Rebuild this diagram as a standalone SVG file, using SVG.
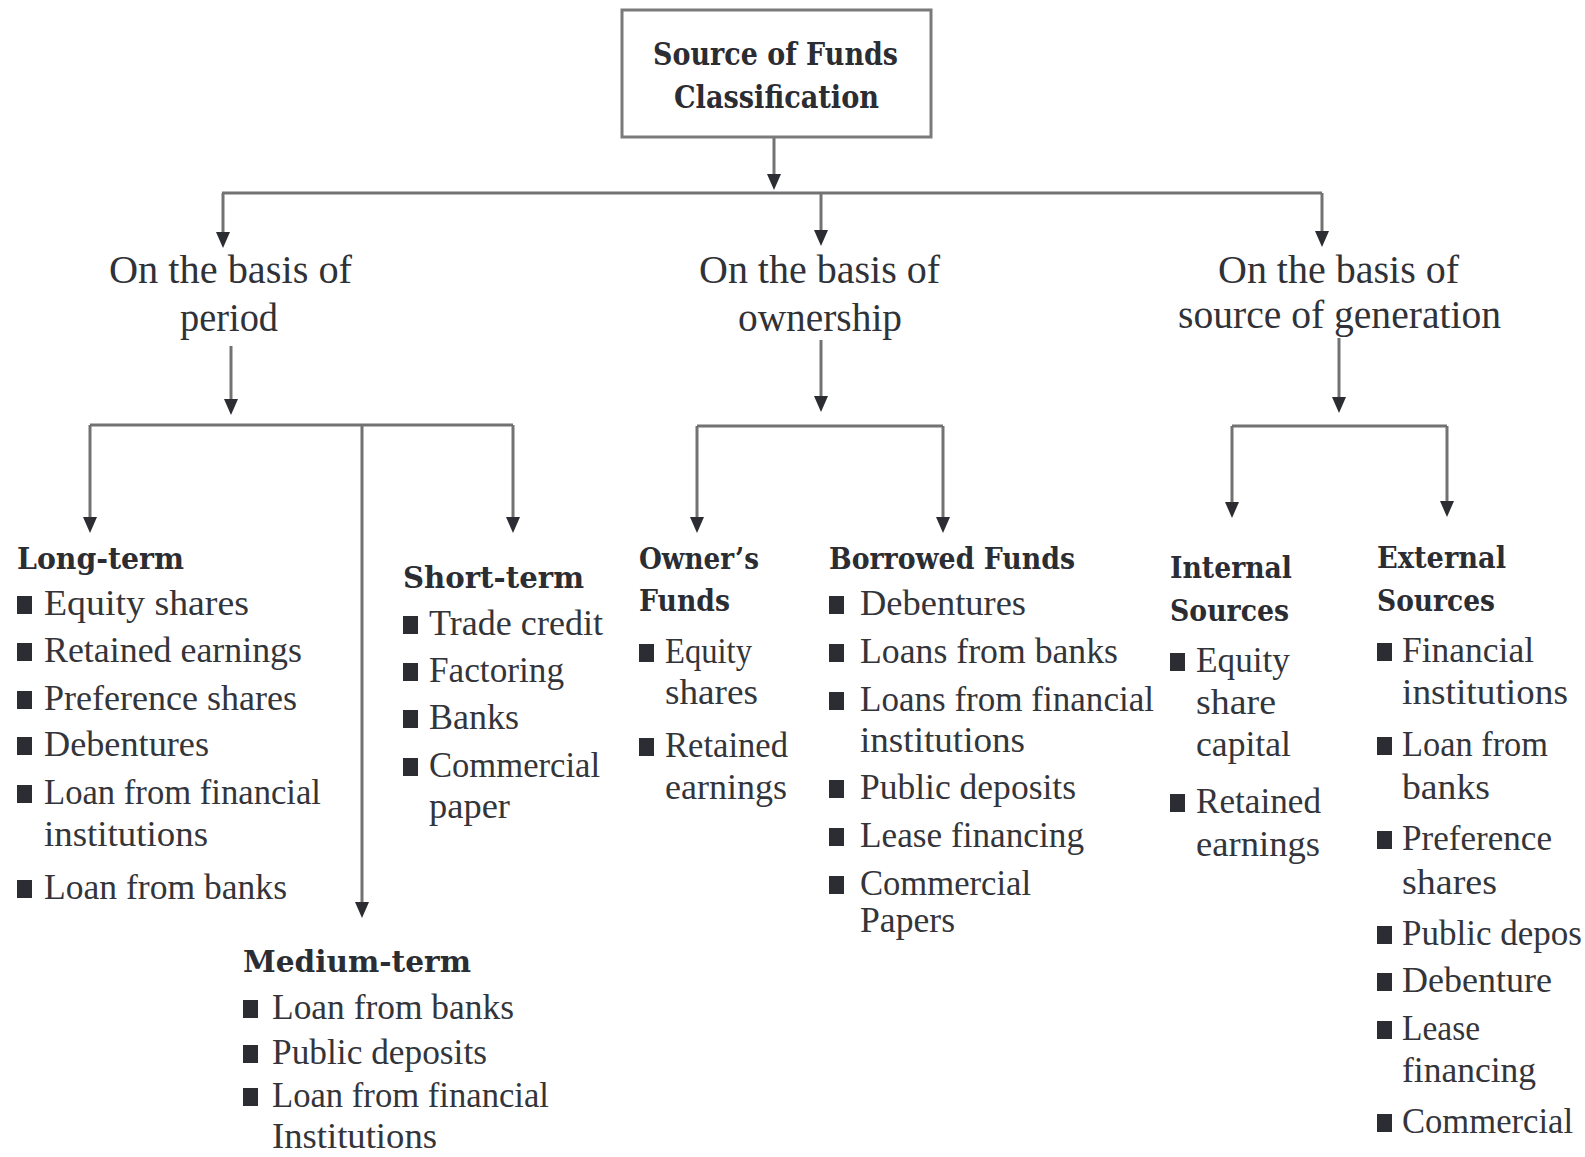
<svg xmlns="http://www.w3.org/2000/svg" width="1585" height="1157" viewBox="0 0 1585 1157">
<style>
text{fill:#2b2d33}
.t{font-family:"DejaVu Serif","Liberation Serif",serif;font-weight:bold;font-size:31px}
.h{font-family:"DejaVu Serif","Liberation Serif",serif;font-weight:bold;font-size:30px}
.l2{font-family:"Liberation Serif",serif;font-size:41px;fill:#303238}
.i{font-family:"Liberation Serif",serif;font-size:36px;fill:#33353a}
.b{fill:#2b2d33}
.c{stroke:#727272;stroke-width:3;fill:none}
.box{fill:#fff;stroke:#7a7a7a;stroke-width:3}
</style>
<defs>
<marker id="ah" markerUnits="userSpaceOnUse" markerWidth="18" markerHeight="16" viewBox="-1 -8 18 16" refX="8" refY="0" orient="auto">
<path d="M0,-7 L16,0 L0,7 z" fill="#2b2d33"/>
</marker>
</defs>
<rect width="1585" height="1157" fill="#fff"/>

<g id="connectors">
<path class="c" d="M774,137 V182" marker-end="url(#ah)"/>
<path class="c" d="M222,193 H1322"/>
<path class="c" d="M223,193 V240" marker-end="url(#ah)"/>
<path class="c" d="M821,193 V238" marker-end="url(#ah)"/>
<path class="c" d="M1322,193 V239" marker-end="url(#ah)"/>
<path class="c" d="M231,346 V407" marker-end="url(#ah)"/>
<path class="c" d="M821,340 V404" marker-end="url(#ah)"/>
<path class="c" d="M1339,338 V405" marker-end="url(#ah)"/>
<path class="c" d="M90,425 H513"/>
<path class="c" d="M90,425 V525" marker-end="url(#ah)"/>
<path class="c" d="M362,425 V910" marker-end="url(#ah)"/>
<path class="c" d="M513,425 V525" marker-end="url(#ah)"/>
<path class="c" d="M697,426 H943"/>
<path class="c" d="M697,426 V525" marker-end="url(#ah)"/>
<path class="c" d="M943,426 V525" marker-end="url(#ah)"/>
<path class="c" d="M1232,426 H1447"/>
<path class="c" d="M1232,426 V510" marker-end="url(#ah)"/>
<path class="c" d="M1447,426 V509" marker-end="url(#ah)"/>
</g>

<g id="root">
<rect class="box" x="622" y="10" width="309" height="127"/>
<text class="t" x="653" y="65" textLength="245" lengthAdjust="spacingAndGlyphs">Source of Funds</text>
<text class="t" x="674" y="108" textLength="205" lengthAdjust="spacingAndGlyphs">Classification</text>
</g>

<g id="period">
<text class="l2" x="109" y="283" textLength="243" lengthAdjust="spacingAndGlyphs">On the basis of</text>
<text class="l2" x="180" y="331" textLength="98" lengthAdjust="spacingAndGlyphs">period</text>
</g>
<g id="ownership">
<text class="l2" x="699" y="283" textLength="241" lengthAdjust="spacingAndGlyphs">On the basis of</text>
<text class="l2" x="738" y="331" textLength="164" lengthAdjust="spacingAndGlyphs">ownership</text>
</g>
<g id="generation">
<text class="l2" x="1218" y="283" textLength="241" lengthAdjust="spacingAndGlyphs">On the basis of</text>
<text class="l2" x="1178" y="328" textLength="323" lengthAdjust="spacingAndGlyphs">source of generation</text>
</g>

<g id="long-term">
<text class="h" x="17" y="569" textLength="167" lengthAdjust="spacingAndGlyphs">Long-term</text>
<rect class="b" x="17" y="596" width="15" height="18"/>
<text class="i" x="44" y="615" textLength="205" lengthAdjust="spacingAndGlyphs">Equity shares</text>
<rect class="b" x="17" y="643" width="15" height="18"/>
<text class="i" x="44" y="662" textLength="258" lengthAdjust="spacingAndGlyphs">Retained earnings</text>
<rect class="b" x="17" y="691" width="15" height="18"/>
<text class="i" x="44" y="710" textLength="253" lengthAdjust="spacingAndGlyphs">Preference shares</text>
<rect class="b" x="17" y="737" width="15" height="18"/>
<text class="i" x="44" y="756" textLength="165" lengthAdjust="spacingAndGlyphs">Debentures</text>
<rect class="b" x="17" y="785" width="15" height="18"/>
<text class="i" x="44" y="804" textLength="277" lengthAdjust="spacingAndGlyphs">Loan from financial</text>
<text class="i" x="44" y="846" textLength="164" lengthAdjust="spacingAndGlyphs">institutions</text>
<rect class="b" x="17" y="880" width="15" height="18"/>
<text class="i" x="44" y="899" textLength="243" lengthAdjust="spacingAndGlyphs">Loan from banks</text>
</g>

<g id="short-term">
<text class="h" x="403" y="588" textLength="181" lengthAdjust="spacingAndGlyphs">Short-term</text>
<rect class="b" x="403" y="616" width="15" height="18"/>
<text class="i" x="429" y="635" textLength="174" lengthAdjust="spacingAndGlyphs">Trade credit</text>
<rect class="b" x="403" y="663" width="15" height="18"/>
<text class="i" x="429" y="682" textLength="135" lengthAdjust="spacingAndGlyphs">Factoring</text>
<rect class="b" x="403" y="710" width="15" height="18"/>
<text class="i" x="429" y="729" textLength="90" lengthAdjust="spacingAndGlyphs">Banks</text>
<rect class="b" x="403" y="758" width="15" height="18"/>
<text class="i" x="429" y="777" textLength="171" lengthAdjust="spacingAndGlyphs">Commercial</text>
<text class="i" x="429" y="818" textLength="81" lengthAdjust="spacingAndGlyphs">paper</text>
</g>

<g id="medium-term">
<text class="h" x="243" y="972" textLength="228" lengthAdjust="spacingAndGlyphs">Medium-term</text>
<rect class="b" x="243" y="1000" width="15" height="18"/>
<text class="i" x="272" y="1019" textLength="242" lengthAdjust="spacingAndGlyphs">Loan from banks</text>
<rect class="b" x="243" y="1045" width="15" height="18"/>
<text class="i" x="272" y="1064" textLength="215" lengthAdjust="spacingAndGlyphs">Public deposits</text>
<rect class="b" x="243" y="1088" width="15" height="18"/>
<text class="i" x="272" y="1107" textLength="277" lengthAdjust="spacingAndGlyphs">Loan from financial</text>
<text class="i" x="272" y="1148" textLength="165" lengthAdjust="spacingAndGlyphs">Institutions</text>
</g>

<g id="owners-funds">
<text class="h" x="639" y="569" textLength="120" lengthAdjust="spacingAndGlyphs">Owner’s</text>
<text class="h" x="639" y="611" textLength="91" lengthAdjust="spacingAndGlyphs">Funds</text>
<rect class="b" x="639" y="644" width="15" height="18"/>
<text class="i" x="665" y="663" textLength="87" lengthAdjust="spacingAndGlyphs">Equity</text>
<text class="i" x="665" y="704" textLength="93" lengthAdjust="spacingAndGlyphs">shares</text>
<rect class="b" x="639" y="738" width="15" height="18"/>
<text class="i" x="665" y="757" textLength="123" lengthAdjust="spacingAndGlyphs">Retained</text>
<text class="i" x="665" y="799" textLength="122" lengthAdjust="spacingAndGlyphs">earnings</text>
</g>

<g id="borrowed-funds">
<text class="h" x="829" y="569" textLength="246" lengthAdjust="spacingAndGlyphs">Borrowed Funds</text>
<rect class="b" x="829" y="596" width="15" height="18"/>
<text class="i" x="860" y="615" textLength="166" lengthAdjust="spacingAndGlyphs">Debentures</text>
<rect class="b" x="829" y="644" width="15" height="18"/>
<text class="i" x="860" y="663" textLength="258" lengthAdjust="spacingAndGlyphs">Loans from banks</text>
<rect class="b" x="829" y="692" width="15" height="18"/>
<text class="i" x="860" y="711" textLength="294" lengthAdjust="spacingAndGlyphs">Loans from financial</text>
<text class="i" x="860" y="752" textLength="165" lengthAdjust="spacingAndGlyphs">institutions</text>
<rect class="b" x="829" y="780" width="15" height="18"/>
<text class="i" x="860" y="799" textLength="216" lengthAdjust="spacingAndGlyphs">Public deposits</text>
<rect class="b" x="829" y="828" width="15" height="18"/>
<text class="i" x="860" y="847" textLength="224" lengthAdjust="spacingAndGlyphs">Lease financing</text>
<rect class="b" x="829" y="876" width="15" height="18"/>
<text class="i" x="860" y="895" textLength="171" lengthAdjust="spacingAndGlyphs">Commercial</text>
<text class="i" x="860" y="932" textLength="95" lengthAdjust="spacingAndGlyphs">Papers</text>
</g>

<g id="internal-sources">
<text class="h" x="1170" y="578" textLength="122" lengthAdjust="spacingAndGlyphs">Internal</text>
<text class="h" x="1170" y="621" textLength="119" lengthAdjust="spacingAndGlyphs">Sources</text>
<rect class="b" x="1170" y="653" width="15" height="18"/>
<text class="i" x="1196" y="672" textLength="94" lengthAdjust="spacingAndGlyphs">Equity</text>
<text class="i" x="1196" y="714" textLength="80" lengthAdjust="spacingAndGlyphs">share</text>
<text class="i" x="1196" y="756" textLength="95" lengthAdjust="spacingAndGlyphs">capital</text>
<rect class="b" x="1170" y="794" width="15" height="18"/>
<text class="i" x="1196" y="813" textLength="125" lengthAdjust="spacingAndGlyphs">Retained</text>
<text class="i" x="1196" y="856" textLength="124" lengthAdjust="spacingAndGlyphs">earnings</text>
</g>

<g id="external-sources">
<text class="h" x="1377" y="568" textLength="129" lengthAdjust="spacingAndGlyphs">External</text>
<text class="h" x="1377" y="611" textLength="118" lengthAdjust="spacingAndGlyphs">Sources</text>
<rect class="b" x="1377" y="643" width="15" height="18"/>
<text class="i" x="1402" y="662" textLength="132" lengthAdjust="spacingAndGlyphs">Financial</text>
<text class="i" x="1402" y="704" textLength="166" lengthAdjust="spacingAndGlyphs">institutions</text>
<rect class="b" x="1377" y="737" width="15" height="18"/>
<text class="i" x="1402" y="756" textLength="146" lengthAdjust="spacingAndGlyphs">Loan from</text>
<text class="i" x="1402" y="799" textLength="88" lengthAdjust="spacingAndGlyphs">banks</text>
<rect class="b" x="1377" y="831" width="15" height="18"/>
<text class="i" x="1402" y="850" textLength="150" lengthAdjust="spacingAndGlyphs">Preference</text>
<text class="i" x="1402" y="894" textLength="95" lengthAdjust="spacingAndGlyphs">shares</text>
<rect class="b" x="1377" y="926" width="15" height="18"/>
<text class="i" x="1402" y="945" textLength="180" lengthAdjust="spacingAndGlyphs">Public depos</text>
<rect class="b" x="1377" y="973" width="15" height="18"/>
<text class="i" x="1402" y="992" textLength="150" lengthAdjust="spacingAndGlyphs">Debenture</text>
<rect class="b" x="1377" y="1021" width="15" height="18"/>
<text class="i" x="1402" y="1040" textLength="78" lengthAdjust="spacingAndGlyphs">Lease</text>
<text class="i" x="1402" y="1082" textLength="134" lengthAdjust="spacingAndGlyphs">financing</text>
<rect class="b" x="1377" y="1114" width="15" height="18"/>
<text class="i" x="1402" y="1133" textLength="171" lengthAdjust="spacingAndGlyphs">Commercial</text>
</g>
</svg>
